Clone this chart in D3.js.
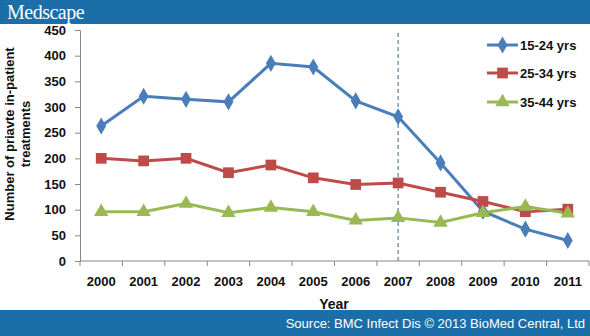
<!DOCTYPE html>
<html><head><meta charset="utf-8">
<script src="https://cdn.jsdelivr.net/npm/d3@7"></script>
<style>body{margin:0;background:#fff}svg{display:block}</style>
</head><body>
<svg id="c" width="590" height="336"></svg>
<script>
const years = ["2000","2001","2002","2003","2004","2005","2006","2007","2008","2009","2010","2011"];
const s1524 = [263,321,315,310,385,378,312,281,191,97,62,40];
const s2534 = [200,195,200,172,187,162,149,152,134,116,96,101];
const s3544 = [96,96,112,94,104,96,79,84,75,94,106,93];
const yTicks = [0,50,100,150,200,250,300,350,400,450];
const seriesNames = ["15-24 yrs","25-34 yrs","35-44 yrs"];
const markerLine = "2007";

(function(){
const svg = d3.select("#c");
const W = 590, H = 336;
const mLeft = 80, mRight = 589, mTop = 30, mBottom = 261;
const blueBar = "#1b6ea8";

svg.append("rect").attr("x",0).attr("y",0).attr("width",W).attr("height",24).attr("fill",blueBar);
svg.append("text").attr("x",7).attr("y",19).attr("fill","#fff")
  .style("font-family","'Liberation Serif','DejaVu Serif',serif").style("font-size","20px")
  .style("letter-spacing","-0.5px").text("Medscape");
svg.append("rect").attr("x",0).attr("y",310).attr("width",W).attr("height",26).attr("fill",blueBar);
svg.append("text").attr("x",585).attr("y",328).attr("text-anchor","end").attr("fill","#fff")
  .style("font-family","'Liberation Sans',Arial,sans-serif").style("font-size","13px")
  .text("Source: BMC Infect Dis \u00a9 2013 BioMed Central, Ltd");

const x = d3.scaleBand().domain(years).range([mLeft,mRight]).padding(0);
const y = d3.scaleLinear().domain([0,450]).range([mBottom,mTop]);
const fontB = "'Liberation Sans',Arial,sans-serif";

const yAxis = svg.append("g").attr("transform",`translate(${mLeft},0)`)
  .call(d3.axisLeft(y).tickValues(yTicks).tickSize(5).tickPadding(9));
yAxis.select(".domain").attr("stroke","#888");
yAxis.selectAll(".tick line").attr("stroke","#888");
yAxis.selectAll("text").style("font-family",fontB).style("font-size","13px").style("font-weight","bold").attr("fill","#111");

const xAxis = svg.append("g").attr("transform",`translate(0,${mBottom})`)
  .call(d3.axisBottom(x).tickSize(0).tickPadding(16));
xAxis.select(".domain").attr("stroke","#888").attr("d",`M${mLeft},0H${mRight}`);
xAxis.selectAll("text").style("font-family",fontB).style("font-size","13px").style("font-weight","bold").attr("fill","#111");
const bounds = years.map(d=>x(d)).concat([x(years[years.length-1])+x.bandwidth()]);
svg.append("g").selectAll("line").data(bounds).join("line")
  .attr("x1",d=>d).attr("x2",d=>d).attr("y1",mBottom).attr("y2",mBottom+5).attr("stroke","#888");

const cx = d => x(d)+x.bandwidth()/2;
svg.append("line").attr("x1",cx(markerLine)).attr("x2",cx(markerLine)).attr("y1",33).attr("y2",mBottom)
  .attr("stroke","#5a7fa8").attr("stroke-width",1.2).attr("stroke-dasharray","4,3");

const colors = ["#4a7ebb","#be4b48","#98b954"];
const data = [s1524,s2534,s3544];
const line = d3.line().x((d,i)=>cx(years[i])).y(d=>y(d));
const sym = [d3.symbolDiamond, d3.symbolSquare, d3.symbolTriangle];
const sizes = [85, 115, 90];

data.forEach((vals,k)=>{
  svg.append("path").datum(vals).attr("d",line).attr("fill","none")
    .attr("stroke",colors[k]).attr("stroke-width",3);
});
data.forEach((vals,k)=>{
  svg.append("g").selectAll("path").data(vals).join("path")
    .attr("transform",(d,i)=>`translate(${cx(years[i])},${y(d)})`)
    .attr("d",d3.symbol().type(sym[k]).size(sizes[k])).attr("fill",colors[k]);
});

const legY = [45,73,102];
seriesNames.forEach((n,k)=>{
  const g = svg.append("g");
  g.append("line").attr("x1",487).attr("x2",518).attr("y1",legY[k]).attr("y2",legY[k])
    .attr("stroke",colors[k]).attr("stroke-width",3);
  g.append("path").attr("transform",`translate(502.5,${legY[k]})`)
    .attr("d",d3.symbol().type(sym[k]).size(sizes[k])).attr("fill",colors[k]);
  g.append("text").attr("x",520).attr("y",legY[k]+5).text(n)
    .style("font-family",fontB).style("font-size","13px").style("font-weight","bold").attr("fill","#111");
});

const yt = svg.append("text").attr("transform","translate(14,134) rotate(-90)")
  .attr("text-anchor","middle").style("font-family",fontB).style("font-size","13px").style("font-weight","bold").attr("fill","#111");
yt.append("tspan").attr("x",0).attr("y",0).text("Number of priavte in-patient");
yt.append("tspan").attr("x",0).attr("y",16).text("treatments");
svg.append("text").attr("x",334).attr("y",309).attr("text-anchor","middle")
  .style("font-family",fontB).style("font-size","14px").style("font-weight","bold").attr("fill","#111").text("Year");
})();
</script>
</body></html>
